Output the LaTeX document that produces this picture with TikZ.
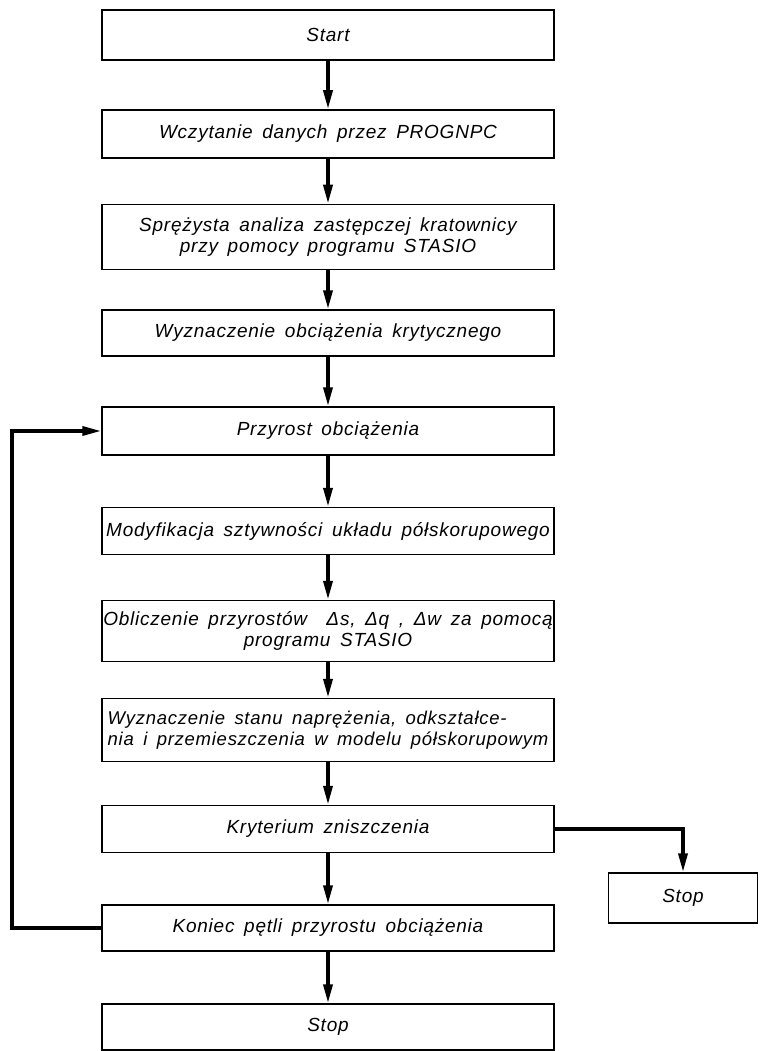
\documentclass[tikz,border=0pt]{standalone}
\usepackage{fontspec}
\newfontfamily\lett[LetterSpace=4,WordSpace=1.6]{Liberation Sans}
\usetikzlibrary{arrows.meta}
\tikzset{
  box/.style={draw, line width=1.5pt, minimum width=452pt, inner sep=1pt,
    font=\lett\itshape\fontsize{19}{21.5}\selectfont},
  arr/.style={line width=3.5pt, -{Triangle[length=19pt,width=9pt]}}
}
\begin{document}
\begin{tikzpicture}[x=1pt,y=-1pt]
\useasboundingbox (0,0) rectangle (760,1051);
\node[box, minimum height=50pt] (b1) at (328,35) {Start};
\node[box, minimum height=48pt] (b2) at (328,134) {Wczytanie danych przez PROGNPC};
\node[box, minimum height=65pt, align=center] (b3) at (328,237) {Sprężysta analiza zastępczej kratownicy\\przy pomocy programu STASIO};
\node[box, minimum height=46pt] (b4) at (328,333) {Wyznaczenie obciążenia krytycznego};
\node[box, minimum height=48pt] (b5) at (328,431) {Przyrost obciążenia};
\node[box, minimum height=47pt] (b6) at (328,531) {Modyfikacja sztywności układu półskorupowego};
\node[box, minimum height=61pt, align=center] (b7) at (328,631) {Obliczenie przyrostów \ Δs, Δq , Δw za pomocą\\programu STASIO};
\node[box, minimum height=63pt, align=left, font=\lett\itshape\fontsize{18.5}{21.5}\selectfont] (b8) at (328,730) {Wyznaczenie stanu naprężenia, odkształce-\\nia i przemieszczenia w modelu półskorupowym};
\node[box, minimum height=47pt] (b9) at (328,829) {Kryterium zniszczenia};
\node[box, minimum height=46pt] (b10) at (328,928) {Koniec pętli przyrostu obciążenia};
\node[box, minimum height=46pt] (b11) at (328,1027) {Stop};
\node[box, minimum height=50pt, minimum width=149pt] (s) at (683,898) {Stop};
\draw[arr] (b1) -- (b2);
\draw[arr] (b2) -- (b3);
\draw[arr] (b3) -- (b4);
\draw[arr] (b4) -- (b5);
\draw[arr] (b5) -- (b6);
\draw[arr] (b6) -- (b7);
\draw[arr] (b7) -- (b8);
\draw[arr] (b8) -- (b9);
\draw[arr] (b9) -- (b10);
\draw[arr] (b10) -- (b11);
\draw[arr] (b9.east) -| (s.north);
\coordinate (lb) at (12,928);
\coordinate (lt) at (12,431);
\draw[arr] (b10.west) -- (lb) -- (lt) -- (b5.west);
\end{tikzpicture}
\end{document}
